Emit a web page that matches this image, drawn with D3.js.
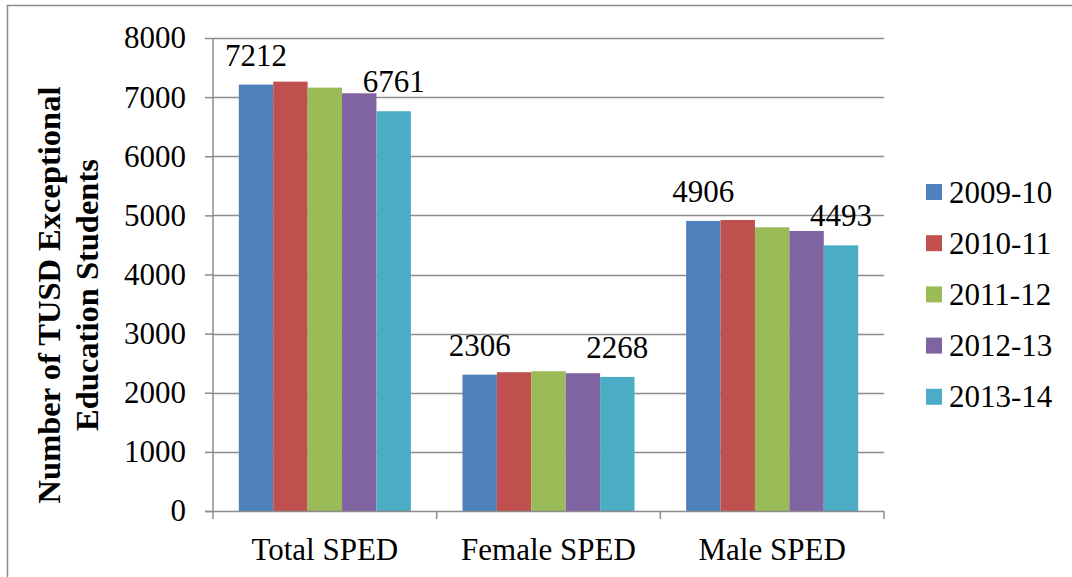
<!DOCTYPE html>
<html>
<head>
<meta charset="utf-8">
<script src="https://cdn.jsdelivr.net/npm/d3@7"></script>
<style>
  html, body { margin: 0; padding: 0; background: #fff; }
  svg { display: block; }
  svg text { font-family: "Liberation Serif", "Times New Roman", serif !important; fill: #000; }
</style>
</head>
<body>
<svg id="chart" width="1072" height="577"></svg>
<script>
// Exceptional education enrolment by group and school year
const categories = ["Total SPED", "Female SPED", "Male SPED"];
const seriesNames = ["2009-10", "2010-11", "2011-12", "2012-13", "2013-14"];
const v2009 = [7212, 2306, 4906];
const v2010 = [7262, 2347, 4922];
const v2011 = [7161, 2364, 4799];
const v2012 = [7065, 2330, 4736];
const v2013 = [6761, 2268, 4493];
const seriesValues = [v2009, v2010, v2011, v2012, v2013];
const colors = ["#4f81bd", "#c0504d", "#9bbb59", "#8064a2", "#4bacc6"];
const yTicks = [0, 1000, 2000, 3000, 4000, 5000, 6000, 7000, 8000];
// only the first and last year carry value labels
const labelledSeries = [0, 4];

const FONT = "'Liberation Serif', 'Times New Roman', serif";
const FS = 31;
const svg = d3.select("#chart");

// outer chart frame
svg.append("rect")
  .attr("x", 7.5).attr("y", 5.5)
  .attr("width", 1080).attr("height", 600)
  .attr("fill", "none").attr("stroke", "#8c8c8c").attr("stroke-width", 1.5);

const plot = { left: 213, right: 884, top: 38, bottom: 511 };

const x0 = d3.scaleBand().domain(categories)
  .range([plot.left, plot.right]).paddingInner(0).paddingOuter(0);
const x1 = d3.scaleBand().domain(d3.range(seriesNames.length))
  .range([0, x0.bandwidth()]).paddingInner(0).paddingOuter(0.75);
const y = d3.scaleLinear().domain([0, 8000]).range([plot.bottom, plot.top]);

// gridlines
svg.append("g").selectAll("line").data(yTicks.filter(d => d > 0)).join("line")
  .attr("x1", plot.left).attr("x2", plot.right)
  .attr("y1", d => Math.round(y(d)) + 0.5).attr("y2", d => Math.round(y(d)) + 0.5)
  .attr("stroke", "#8c8c8c").attr("stroke-width", 1.5);

// bars
const groups = svg.append("g").selectAll("g").data(categories).join("g")
  .attr("transform", c => `translate(${x0(c)},0)`);
groups.selectAll("rect")
  .data((c, ci) => seriesValues.map((vals, si) => ({ si, v: vals[ci] })))
  .join("rect")
  .attr("x", d => x1(d.si))
  .attr("width", x1.bandwidth())
  .attr("y", d => y(d.v))
  .attr("height", d => y(0) - y(d.v))
  .attr("fill", d => colors[d.si]);

// value labels
groups.selectAll("text.val")
  .data((c, ci) => labelledSeries.map(si => ({ si, v: seriesValues[si][ci] })))
  .join("text")
  .attr("class", "val")
  .attr("x", d => x1(d.si) + x1.bandwidth() / 2)
  .attr("y", d => y(d.v) - 19)
  .attr("text-anchor", "middle")
  .style("font-family", FONT)
  .attr("font-size", FS)
  .text(d => d.v);

// y axis
const yAxis = d3.axisLeft(y).tickValues(yTicks).tickSize(8).tickPadding(19)
  .tickFormat(d3.format("d"));
const ya = svg.append("g").attr("transform", `translate(${plot.left},0)`).call(yAxis);
ya.attr("font-family", null).attr("font-size", null);
ya.select(".domain").attr("stroke", "#8c8c8c").attr("stroke-width", 1.5)
  .attr("d", `M0,${plot.top}V${plot.bottom}`);
ya.selectAll(".tick line").attr("stroke", "#8c8c8c").attr("stroke-width", 1.5);
ya.selectAll(".tick text").attr("font-size", FS).attr("dy", "0.32em")
  .style("font-family", FONT).attr("fill", "#000");

// x axis
const xAxis = d3.axisBottom(x0).tickSize(0).tickPadding(0);
const xa = svg.append("g").attr("transform", `translate(0,${plot.bottom})`).call(xAxis);
xa.attr("font-family", null).attr("font-size", null);
xa.select(".domain").remove();
xa.append("line").attr("x1", plot.left - 8).attr("x2", plot.right)
  .attr("y1", 0.5).attr("y2", 0.5).attr("stroke", "#8c8c8c").attr("stroke-width", 1.5);
xa.selectAll(".sep").data(d3.range(categories.length + 1)).join("line")
  .attr("class", "sep")
  .attr("x1", i => plot.left + i * x0.bandwidth()).attr("x2", i => plot.left + i * x0.bandwidth())
  .attr("y1", 0).attr("y2", 8)
  .attr("stroke", "#8c8c8c").attr("stroke-width", 1.5);
xa.selectAll(".tick text").attr("font-size", FS).attr("y", 49).attr("dy", 0)
  .style("font-family", FONT).attr("fill", "#000");

// y axis title
const yTitle = svg.append("text")
  .attr("transform", "translate(68,295) rotate(-90)")
  .attr("text-anchor", "middle")
  .style("font-family", FONT)
  .attr("font-size", 32.5).attr("font-weight", "bold");
yTitle.append("tspan").attr("x", 0).attr("y", -8).text("Number of TUSD Exceptional");
yTitle.append("tspan").attr("x", 0).attr("y", 30).text("Education Students");

// legend
const legend = svg.append("g").selectAll("g").data(seriesNames).join("g")
  .attr("transform", (d, i) => `translate(926,${192 + i * 51.2})`);
legend.append("rect").attr("x", 0).attr("y", -8).attr("width", 16).attr("height", 16)
  .attr("fill", (d, i) => colors[i]);
legend.append("text").attr("x", 23).attr("y", 0).attr("dy", "0.34em")
  .style("font-family", FONT)
  .attr("font-size", FS).text(d => d);
</script>
</body>
</html>
